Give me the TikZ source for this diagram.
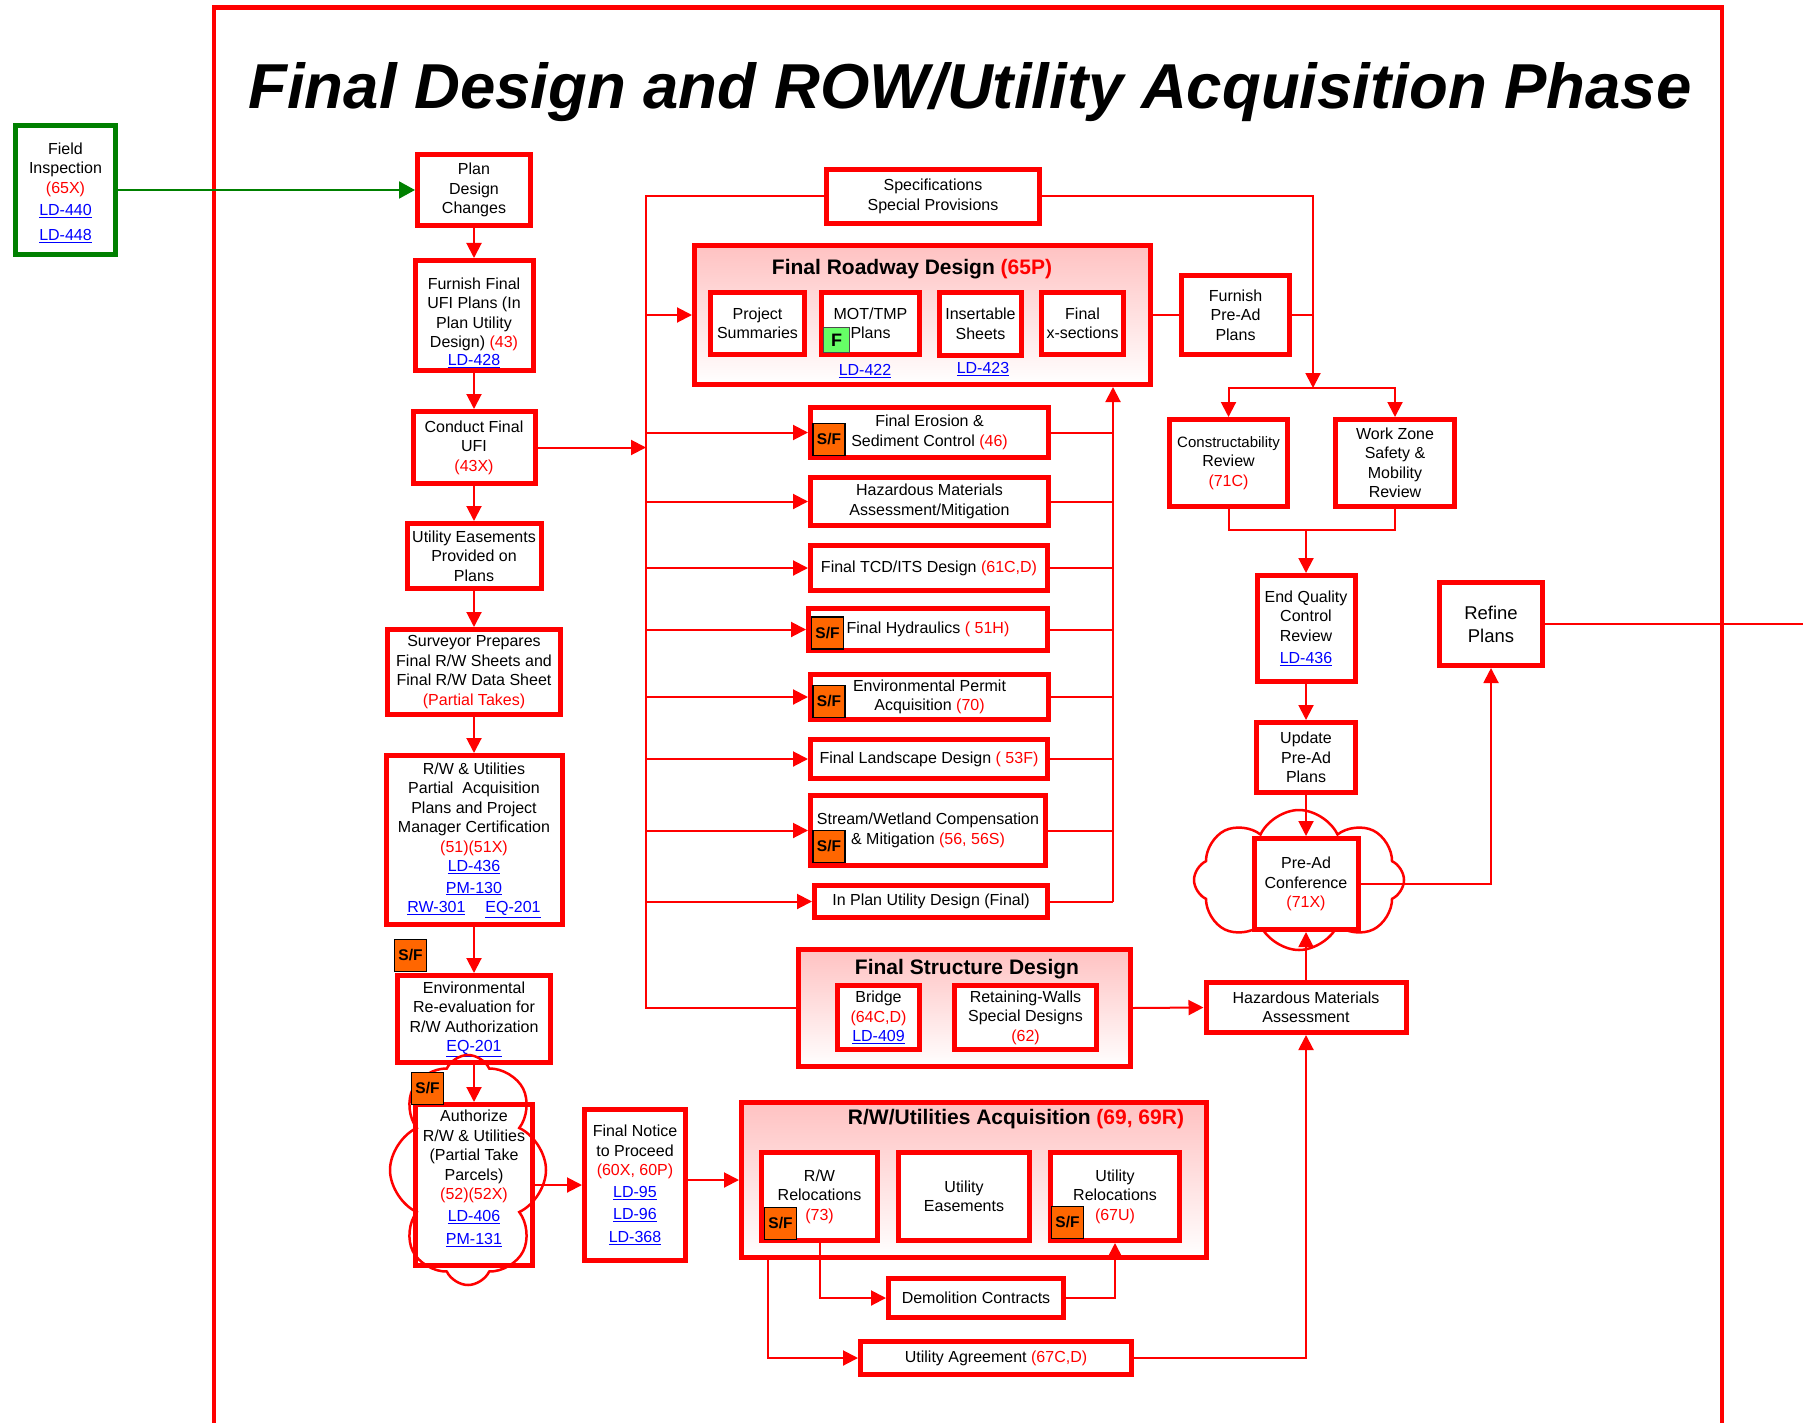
\documentclass[tikz,border=0pt]{standalone}
\usepackage{fontspec}
\setmainfont{Liberation Sans}
\usetikzlibrary{arrows.meta,shapes.symbols,calc}
\definecolor{rd}{RGB}{255,0,0}
\definecolor{lb}{RGB}{0,0,255}
\definecolor{grn}{RGB}{0,128,0}
\definecolor{sfo}{RGB}{255,102,0}
\definecolor{fgr}{RGB}{102,255,102}
\newcommand{\rc}[1]{\textcolor{rd}{#1}}
\newcommand{\lnk}[1]{\textcolor{lb}{\underline{#1}}}
\newcommand{\fs}{\fontsize{16}{19.5}\selectfont}
\begin{document}
\begin{tikzpicture}[x=1pt,y=-1pt,
  box/.style={draw=rd, line width=5pt, fill=white, align=center, inner sep=1pt, font=\fs},
  sz/.style 2 args={minimum width=#1pt-5pt, minimum height=#2pt-5pt},
  grp/.style={draw=rd, line width=5pt, top color=rd!24, bottom color=white, inner sep=0pt},
  gtitle/.style={font=\bfseries\fontsize{21}{25}\selectfont, inner sep=0pt},
  con/.style={draw=rd, color=rd, line width=2pt},
  arr/.style={con, -{Triangle[length=15pt,width=15pt]}},
  sfb/.style={draw=black, line width=1.3pt, fill=sfo, minimum width=32pt, minimum height=32pt, inner sep=0pt, font=\bfseries\fontsize{15.5}{15.5}\selectfont},
  lnode/.style={inner sep=0pt, font=\fs},
  cloudst/.style={cloud, draw=rd, line width=2.5pt, cloud ignores aspect, inner sep=0pt}
]
\useasboundingbox (0,0) rectangle (1803,1423);
\fill[white] (0,0) rectangle (1803,1423);
% frame
\draw[rd, line width=4.5pt] (214,1450) -- (214,7.5) -- (1722,7.5) -- (1722,1450);
% title
\node[anchor=base, inner sep=0pt, font=\bfseries\itshape\fontsize{63.5}{70}\selectfont] (title) at (970,109) {Final Design and ROW/Utility Acquisition Phase};

% left column
\node[box, sz={105}{134}, draw=grn] (field) at (65.5,190) {\rule{0pt}{17pt}Field\\Inspection\\\rc{(65X)}\\[3pt]\lnk{LD-440}\\[5pt]\lnk{LD-448}};
\node[box, sz={118}{76}] (plan) at (474,190) {Plan\\Design\\Changes};
\node[box, sz={123}{115}] (furnufi) at (474,315.5) {\rule{0pt}{26pt}Furnish Final\\UFI Plans (In\\Plan Utility\\Design) \rc{(43)}\\[-2pt]\lnk{LD-428}};
\node[box, sz={127}{77}] (conduct) at (474,447.5) {Conduct Final\\UFI\\\rc{(43X)}};
\node[box, sz={139}{70}] (ueasep) at (474,556) {Utility Easements\\Provided on\\Plans};
\node[box, sz={178}{90}] (surveyor) at (474,672) {Surveyor Prepares\\Final R/W Sheets and\\Final R/W Data Sheet\\\rc{(Partial Takes)}};
\node[box, sz={181}{174}] (rwpartial) at (474,840) {R/W \& Utilities\\Partial\ \ Acquisition\\Plans and Project\\Manager Certification\\\rc{(51)(51X)}\\\lnk{LD-436}\\[2pt]\lnk{PM-130}\\\lnk{RW-301}\hspace{20pt}\lnk{EQ-201}};
\node[box, sz={158}{92}] (envre) at (474,1019) {Environmental\\Re-evaluation for\\R/W Authorization\\\lnk{EQ-201}};
\node[box, sz={122}{166}] (authorize) at (474,1185) {Authorize\\R/W \& Utilities\\(Partial Take\\Parcels)\\\rc{(52)(52X)}\\[2pt]\lnk{LD-406}\\[4pt]\lnk{PM-131}\rule[-15pt]{0pt}{0pt}};
\node[cloudst, cloud puffs=8, cloud puff arc=130, minimum width=156pt, minimum height=230pt] (cloudA) at (468,1170) {};
\node[box, sz={106}{156}] (notice) at (635,1185) {Final Notice\\to Proceed\\\rc{(60X, 60P)}\\[2pt]\lnk{LD-95}\\[3pt]\lnk{LD-96}\\[3pt]\lnk{LD-368}};
\node[sfb] (sf1) at (410.5,955.5) {S/F};
\node[sfb] (sf2) at (427.5,1088.5) {S/F};

% specifications and roadway design
\node[box, sz={218}{59}] (spec) at (933,196.5) {Specifications\\Special Provisions};
\node[grp, minimum width=456pt, minimum height=139pt] (rgrp) at (922.5,315) {};
\node[gtitle] (rgrpt) at (912,269) {Final Roadway Design \rc{(65P)}};
\node[box, sz={99}{67}] (projsum) at (757.5,323.5) {Project\\Summaries};
\node[box, sz={103}{67}] (mot) at (870.5,323.5) {MOT/TMP\\Plans};
\node[box, sz={87}{68}] (insert) at (980.5,324) {Insertable\\Sheets};
\node[box, sz={87}{67}] (xsec) at (1082.5,323.5) {Final\\x-sections};
\node[draw=black!70, line width=1pt, fill=fgr, minimum width=26pt, minimum height=25pt, inner sep=0pt, font=\bfseries\fontsize{18}{18}\selectfont] (fbadge) at (836.5,340) {F};
\node[lnode] (ld422) at (865,371) {\lnk{LD-422}};
\node[lnode] (ld423) at (983,369) {\lnk{LD-423}};

% task list
\node[box, sz={243}{55}] (erosion) at (929.5,432.5) {Final Erosion \&\\Sediment Control \rc{(46)}};
\node[box, sz={243}{53}] (hazmit) at (929.5,501.5) {Hazardous Materials\\Assessment/Mitigation};
\node[box, sz={242}{50}] (tcd) at (929,568) {Final TCD/ITS Design \rc{(61C,D)}};
\node[box, sz={244}{47}] (hydr) at (928,629.5) {Final Hydraulics \rc{( 51H)}};
\node[box, sz={243}{50}] (envperm) at (929.5,697) {Environmental Permit\\Acquisition \rc{(70)}};
\node[box, sz={242}{44}] (landsc) at (929,759) {Final Landscape Design \rc{( 53F)}};
\node[box, sz={240}{75}] (stream) at (928,830.5) {Stream/Wetland Compensation\\\& Mitigation \rc{(56, 56S)}};
\node[box, sz={238}{37}] (inplan) at (931,901.5) {In Plan Utility Design (Final)};
\node[sfb] (sf3) at (829,439.5) {S/F};
\node[sfb] (sf4) at (827.5,633) {S/F};
\node[sfb] (sf5) at (829,701.5) {S/F};
\node[sfb] (sf6) at (829,846.5) {S/F};

% structure design
\node[grp, minimum width=332pt, minimum height=117pt] (sgrp) at (964.5,1008) {};
\node[gtitle] (sgrpt) at (967,969) {Final Structure Design};
\node[box, sz={87}{69}] (bridge) at (878.5,1017.5) {Bridge\\\rc{(64C,D)}\\\lnk{LD-409}};
\node[box, sz={147}{69}] (retain) at (1025.5,1017.5) {Retaining-Walls\\Special Designs\\\rc{(62)}};

% acquisition
\node[grp, minimum width=465pt, minimum height=155pt] (agrp) at (974,1180) {};
\node[gtitle] (agrpt) at (1016,1119) {R/W/Utilities Acquisition \rc{(69, 69R)}};
\node[box, sz={121}{93}] (rwreloc) at (819.5,1196.5) {R/W\\Relocations\\\rc{(73)}};
\node[box, sz={136}{93}] (ueasacq) at (964,1196.5) {Utility\\Easements};
\node[box, sz={134}{93}] (ureloc) at (1115,1196.5) {Utility\\Relocations\\\rc{(67U)}};
\node[sfb] (sf7) at (780.5,1223.5) {S/F};
\node[sfb] (sf8) at (1067.5,1222.5) {S/F};
\node[box, sz={180}{44}] (demol) at (976,1298) {Demolition Contracts};
\node[box, sz={276}{38}] (uagree) at (996,1358) {Utility Agreement \rc{(67C,D)}};

% right column
\node[box, sz={113}{84}] (furnpre) at (1235.5,315) {Furnish\\Pre-Ad\\Plans};
\node[box, sz={123}{92}] (constr) at (1228.5,463) {{\fontsize{15}{19.5}\selectfont Constructability}\\Review\\\rc{(71C)}};
\node[box, sz={124}{92}] (workzone) at (1395,463) {Work Zone\\Safety \&\\Mobility\\Review};
\node[box, sz={103}{111}] (endqc) at (1306,628.5) {End Quality\\Control\\Review\\[3pt]\lnk{LD-436}};
\node[box, sz={108}{88}, font=\fontsize{18.5}{23}\selectfont] (refine) at (1491,624) {Refine\\Plans};
\node[box, sz={104}{75}] (update) at (1306,757.5) {Update\\Pre-Ad\\Plans};
\node[cloudst, cloud puffs=8, cloud puff arc=130, minimum width=210pt, minimum height=140pt] (cloudB) at (1299,880) {};
\node[box, sz={109}{96}] (preadconf) at (1306,884) {Pre-Ad\\Conference\\\rc{(71X)}};
\node[box, sz={205}{55}] (hazassess) at (1306,1007.5) {Hazardous Materials\\Assessment};

% coordinates
\coordinate (lbtop) at (646,196.5);
\coordinate (lbbot) at (646,1008);
\coordinate (rb) at (1113,901.5);
\coordinate (split) at (1313,388);
\coordinate (merge) at (1306,530);
\coordinate (acqdrop) at (768,1260);
\coordinate (offr) at (1803,624);

% connectors: left column
\draw[color=grn, line width=2pt, -{Triangle[length=16pt,width=17pt]}] (field) -- (plan);
\draw[arr] (plan) -- (furnufi);
\draw[arr] (furnufi) -- (conduct);
\draw[arr] (conduct) -- (ueasep);
\draw[arr] (ueasep) -- (surveyor);
\draw[arr] (surveyor) -- (rwpartial);
\draw[arr] (rwpartial) -- (envre);
\draw[arr] (envre) -- (authorize);
\draw[arr] (authorize.east) -- (notice.west);
\draw[arr] (notice.east |- agrp.west) -- (agrp.west);

% left bus
\draw[con] (spec.west) -| (lbbot) -- (sgrp.west);
\draw[arr] (conduct.east) -- (lbtop |- conduct.east);
\draw[arr] (lbtop |- rgrp.west) -- (rgrp.west);
\draw[arr] (lbtop |- erosion.west) -- (erosion.west);
\draw[arr] (lbtop |- hazmit.west) -- (hazmit.west);
\draw[arr] (lbtop |- tcd.west) -- (tcd.west);
\draw[arr] (lbtop |- hydr.west) -- (hydr.west);
\draw[arr] (lbtop |- envperm.west) -- (envperm.west);
\draw[arr] (lbtop |- landsc.west) -- (landsc.west);
\draw[arr] (lbtop |- stream.west) -- (stream.west);
\draw[arr] (lbtop |- inplan.west) -- (inplan.west);

% right bus
\draw[con] (erosion.east) -- (rb |- erosion.east);
\draw[con] (hazmit.east) -- (rb |- hazmit.east);
\draw[con] (tcd.east) -- (rb |- tcd.east);
\draw[con] (hydr.east) -- (rb |- hydr.east);
\draw[con] (envperm.east) -- (rb |- envperm.east);
\draw[con] (landsc.east) -- (rb |- landsc.east);
\draw[con] (stream.east) -- (rb |- stream.east);
\draw[con] (inplan.east) -- (rb);
\draw[arr] (rb) -- (rb |- rgrp.south);

% right side
\draw[con] (rgrp.east) -- (furnpre.west);
\draw[arr] (spec.east) -| (split);
\draw[con] (furnpre.east) -- (split |- furnpre.east);
\draw[arr] (split) -| (constr.north);
\draw[arr] (split) -| (workzone.north);
\draw[con] (constr.south) |- (merge);
\draw[con] (workzone.south) |- (merge);
\draw[arr] (merge) -- (endqc.north);
\draw[arr] (endqc) -- (update);
\draw[arr] (update) -- (preadconf);
\draw[arr] (preadconf.east) -| (refine.south);
\draw[con] (refine.east) -- (offr);
\draw[arr] (sgrp.east) -- (hazassess.west);
\draw[arr] (hazassess) -- (preadconf);

% acquisition outputs
\draw[arr] (acqdrop) |- (uagree.west);
\draw[arr] (rwreloc.south) |- (demol.west);
\draw[arr] (demol.east) -| (ureloc.south);
\draw[arr] (uagree.east) -| (hazassess.south);
\end{tikzpicture}
\end{document}
